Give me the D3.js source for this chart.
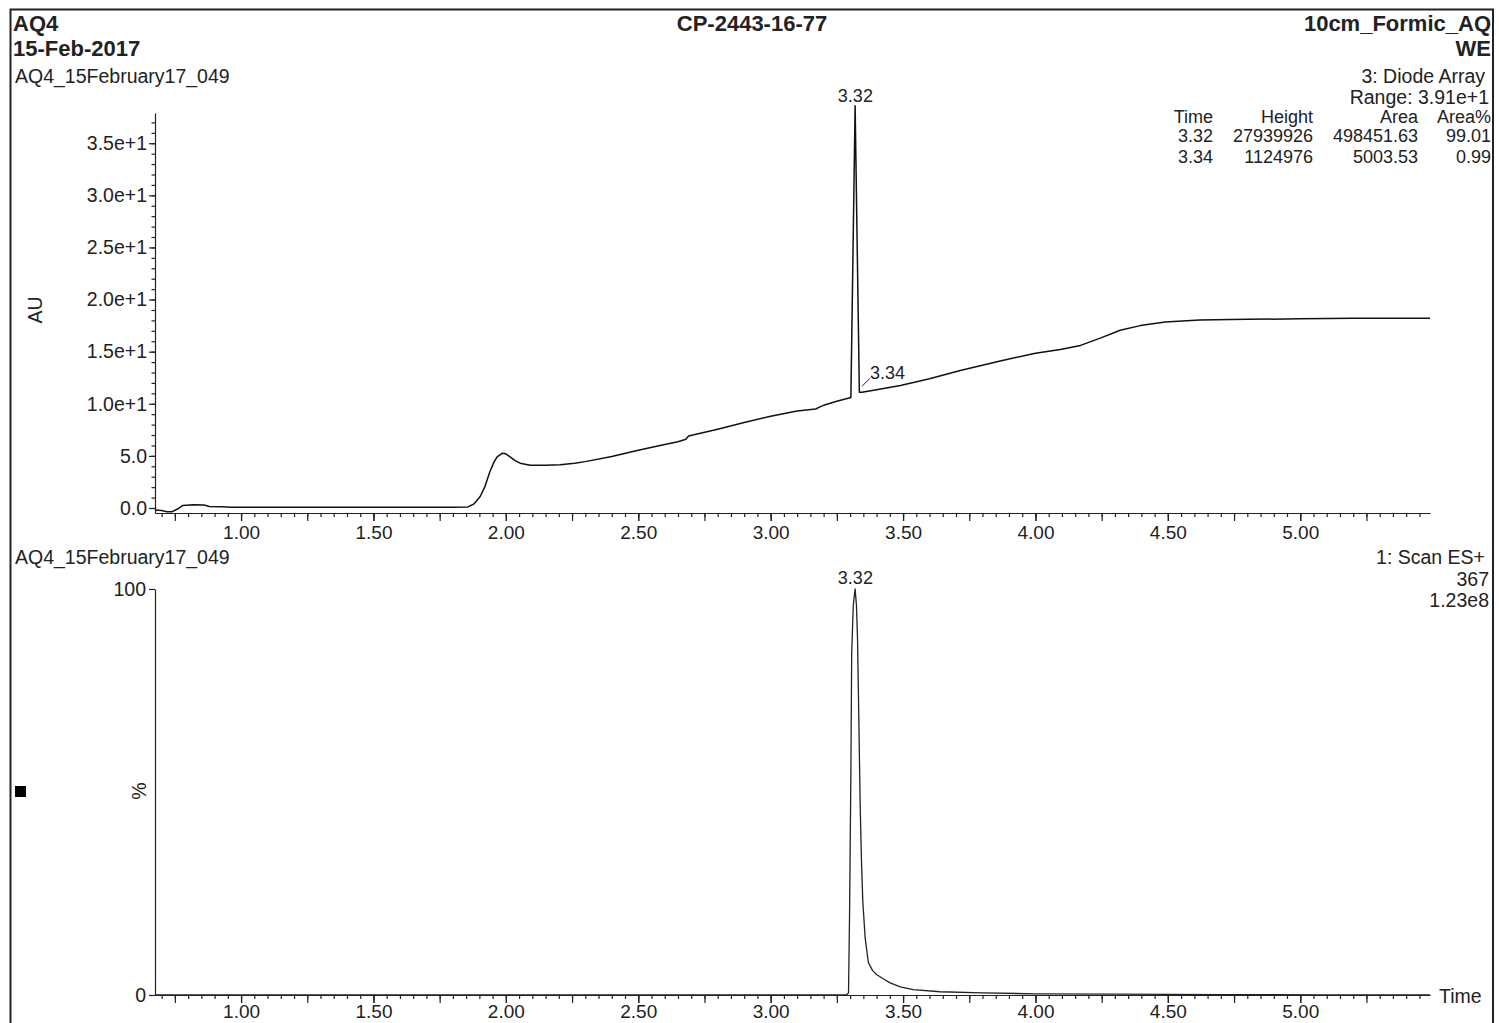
<!DOCTYPE html>
<html>
<head>
<meta charset="utf-8">
<script src="https://cdn.jsdelivr.net/npm/d3@7"></script>
<style>
  html, body { margin: 0; padding: 0; background: #fff; }
  svg { display: block; }
  text { font-family: "Liberation Sans", Arial, sans-serif; fill: #222; }
</style>
</head>
<body>
<svg id="chart" width="1499" height="1023"></svg>
<script>
// ---------------- DATA ----------------
// Top trace: 3: Diode Array (AU) vs time (min)
const uvTime = [0.675,0.70,0.72,0.74,0.76,0.78,0.82,0.86,0.88,0.93,0.96,1.20,1.50,1.80,1.857,1.88,1.903,1.92,1.94,1.955,1.967,1.986,2.00,2.016,2.035,2.054,2.092,2.15,2.205,2.26,2.30,2.40,2.50,2.60,2.65,2.68,2.69,2.80,2.90,3.00,3.10,3.17,3.19,3.20,3.25,3.303,3.311,3.319,3.327,3.335,3.345,3.40,3.49,3.60,3.716,3.867,4.00,4.094,4.17,4.245,4.32,4.396,4.49,4.62,4.80,5.00,5.20,5.49];
const uvAU   = [-0.2,-0.25,-0.35,-0.35,-0.1,0.25,0.3,0.28,0.15,0.12,0.08,0.08,0.08,0.08,0.1,0.4,1.1,2.0,3.5,4.4,4.9,5.25,5.2,4.9,4.55,4.3,4.1,4.1,4.15,4.3,4.45,4.95,5.55,6.1,6.35,6.6,6.9,7.55,8.2,8.8,9.3,9.5,9.75,9.85,10.25,10.6,24.6,38.6,24.85,11.1,11.1,11.35,11.75,12.4,13.2,14.1,14.85,15.2,15.6,16.3,17.05,17.5,17.85,18.05,18.1,18.15,18.2,18.2];

// Bottom trace: 1: Scan ES+ 367 (% of 1.23e8) vs time (min)
const msTime = [0.675,1.50,2.50,3.20,3.285,3.294,3.298,3.303,3.306,3.312,3.319,3.324,3.328,3.333,3.338,3.343,3.348,3.357,3.369,3.385,3.401,3.425,3.451,3.49,3.538,3.64,3.8,4.0,4.3,4.7,5.1,5.49];
const msPct  = [0,0,0,0,0,0.5,20,55,84,96,100,96,88,68,47,33,23,14,8,6,5,4,3,2,1.3,0.8,0.5,0.3,0.2,0.1,0.05,0];

// Axis tick labels
const xLabelTicks = [1.00,1.50,2.00,2.50,3.00,3.50,4.00,4.50,5.00];
const yTopTicks   = [0,5,10,15,20,25,30,35];
const yTopLabels  = ["0.0","5.0","1.0e+1","1.5e+1","2.0e+1","2.5e+1","3.0e+1","3.5e+1"];
const yBotTicks   = [0,100];
const yBotLabels  = ["0","100"];

// Peak annotations
const topPeakLabels = [{t:3.32, v:38.6, text:"3.32"}];
const topShoulder   = {t:3.345, v:11.1, text:"3.34"};
const botPeakLabels = [{t:3.32, v:100, text:"3.32"}];

// Header/table text
const tableHeader = ["Time","Height","Area","Area%"];
const tableRows = [["3.32","27939926","498451.63","99.01"],["3.34","1124976","5003.53","0.99"]];

// ---------------- DRAW ----------------
const svg = d3.select("#chart");
const ink = "#222";

// frame
svg.append("rect").attr("x",10.5).attr("y",9.5).attr("width",1482.5).attr("height",1040)
  .attr("fill","none").attr("stroke",ink).attr("stroke-width",2);

const x = d3.scaleLinear().domain([0.675, 5.49]).range([155, 1430]);
const yTop = d3.scaleLinear().domain([-0.48, 37.9]).range([513, 113]);
const yBot = d3.scaleLinear().domain([0, 100]).range([995, 589]);

const minorX = d3.range(14, 110).map(i => i * 0.05).filter(t => t > 0.68 && t < 5.48);
const midX = minorX.filter(t => Math.abs(t*4 - Math.round(t*4)) < 1e-6);

function styleAxis(g, fs) {
  g.attr("font-family", null).attr("font-size", null);
  g.selectAll("path, line").attr("stroke", ink).attr("stroke-width", 1.2);
  g.selectAll("text").attr("font-size", fs || 19).style("fill", ink);
}

function drawXAxis(yPos, pad) {
  const g1 = svg.append("g").attr("transform", `translate(0,${yPos})`)
    .call(d3.axisBottom(x).tickValues(minorX).tickSize(4).tickSizeOuter(0).tickFormat(""));
  styleAxis(g1);
  const g2 = svg.append("g").attr("transform", `translate(0,${yPos})`)
    .call(d3.axisBottom(x).tickValues(midX).tickSize(8).tickSizeOuter(0).tickFormat(""));
  g2.select(".domain").remove();
  styleAxis(g2);
  const g3 = svg.append("g").attr("transform", `translate(0,${yPos})`)
    .call(d3.axisBottom(x).tickValues(xLabelTicks).tickSize(8).tickPadding(pad).tickSizeOuter(0).tickFormat(d3.format(".2f")));
  g3.select(".domain").remove();
  styleAxis(g3, 19);
}

// ---- Top chart ----
drawXAxis(513, 5);
{
  const gMinor = svg.append("g").attr("transform","translate(155,0)")
    .call(d3.axisLeft(yTop).tickValues(d3.range(0, 38)).tickSize(3.5).tickSizeOuter(0).tickFormat(""));
  styleAxis(gMinor);
  const gMajor = svg.append("g").attr("transform","translate(155,0)")
    .call(d3.axisLeft(yTop).tickValues(yTopTicks).tickSize(6).tickPadding(2).tickSizeOuter(0)
      .tickFormat((d,i) => yTopLabels[i]));
  gMajor.select(".domain").remove();
  styleAxis(gMajor, 19.5);
}
const uvData = uvTime.map((t,i) => [t, uvAU[i]]);
svg.append("path").datum(uvData)
  .attr("fill","none").attr("stroke","#111").attr("stroke-width",1.5).attr("stroke-linejoin","round")
  .attr("d", d3.line().x(d => x(d[0])).y(d => yTop(d[1])));

topPeakLabels.forEach(p => {
  svg.append("text").attr("x", x(p.t)).attr("y", yTop(p.v) - 4).attr("text-anchor","middle")
    .attr("font-size",18).text(p.text);
});
svg.append("line").attr("x1", x(topShoulder.t)).attr("y1", yTop(topShoulder.v) - 6)
  .attr("x2", x(topShoulder.t) + 8).attr("y2", yTop(topShoulder.v) - 14)
  .attr("stroke", ink).attr("stroke-width", 1);
svg.append("text").attr("x", x(topShoulder.t) + 8).attr("y", yTop(topShoulder.v) - 13)
  .attr("font-size",18).text(topShoulder.text);

svg.append("text").attr("transform","translate(42,310) rotate(-90)").attr("text-anchor","middle")
  .attr("font-size",19.5).text("AU");

// ---- Bottom chart ----
drawXAxis(995, 2);
{
  const gY = svg.append("g").attr("transform","translate(155,0)")
    .call(d3.axisLeft(yBot).tickValues(yBotTicks).tickSize(6).tickPadding(3).tickSizeOuter(0)
      .tickFormat((d,i) => yBotLabels[i]));
  styleAxis(gY, 19.5);
}
const msData = msTime.map((t,i) => [t, msPct[i]]);
svg.append("path").datum(msData)
  .attr("fill","none").attr("stroke","#222").attr("stroke-width",1.3).attr("stroke-linejoin","round")
  .attr("d", d3.line().x(d => x(d[0])).y(d => yBot(d[1])));
botPeakLabels.forEach(p => {
  svg.append("text").attr("x", x(p.t)).attr("y", yBot(p.v) - 5).attr("text-anchor","middle")
    .attr("font-size",18).text(p.text);
});
svg.append("text").attr("transform","translate(146,791) rotate(-90)").attr("text-anchor","middle")
  .attr("font-size",19.5).text("%");
svg.append("text").attr("x",1439).attr("y",1003).attr("font-size",19.5).text("Time");
svg.append("rect").attr("x",15).attr("y",786).attr("width",11).attr("height",11).attr("fill","#000");

// ---- Header text ----
const T = (xx, yy, txt, opts={}) => svg.append("text").attr("x",xx).attr("y",yy)
  .attr("font-size", opts.size || 19.5).attr("font-weight", opts.bold ? "bold" : null)
  .attr("text-anchor", opts.anchor || "start").text(txt);

T(13, 31, "AQ4", {bold:true, size:22});
T(13, 56, "15-Feb-2017", {bold:true, size:22});
T(15, 83, "AQ4_15February17_049");
T(752, 31, "CP-2443-16-77", {bold:true, size:22, anchor:"middle"});
T(1491, 31, "10cm_Formic_AQ", {bold:true, size:22, anchor:"end"});
T(1491, 56, "WE", {bold:true, size:22, anchor:"end"});
T(1485, 83, "3: Diode Array", {anchor:"end"});
T(1489, 104, "Range: 3.91e+1", {anchor:"end"});

const colRight = [1213, 1313, 1418, 1491];
tableHeader.forEach((h,i) => T(colRight[i], 123, h, {size:18, anchor:"end"}));
tableRows.forEach((r,ri) => r.forEach((c,i) => T(colRight[i], 142 + ri*21, c, {size:18, anchor:"end"})));

T(15, 564, "AQ4_15February17_049");
T(1485, 564, "1: Scan ES+", {anchor:"end"});
T(1489, 586, "367", {anchor:"end"});
T(1489, 607, "1.23e8", {anchor:"end"});
</script>
</body>
</html>
